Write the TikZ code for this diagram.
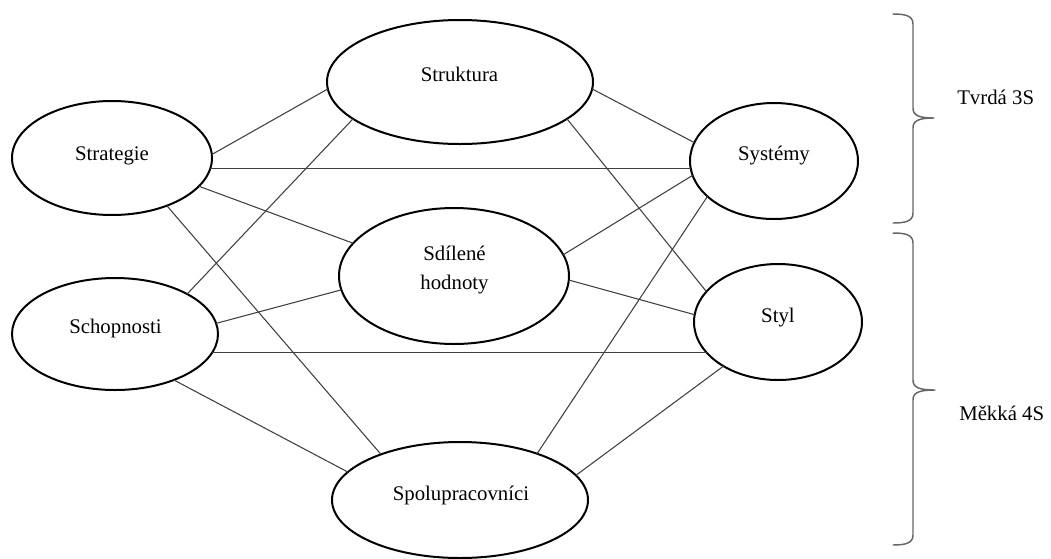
\documentclass[tikz,border=0pt]{standalone}
\usepackage{fontspec}
\setmainfont{Liberation Serif}
\usetikzlibrary{shapes.geometric}
\begin{document}
\begin{tikzpicture}[x=0.75pt,y=-0.75pt,
  oval/.style={ellipse,draw=black,line width=1.5pt,inner sep=0pt,outer sep=0pt},
  lbl/.style={anchor=base,inner sep=0pt,font=\fontsize{15.6pt}{19pt}\selectfont},
  side/.style={anchor=base west,inner sep=0pt,font=\fontsize{15.6pt}{19pt}\selectfont},
  link/.style={draw=black!75,line width=0.8pt},
  brace/.style={draw=black!60,line width=1.1pt,line cap=round,line join=round}]
\useasboundingbox (0,0) rectangle (1051,558);

% the seven elements
\node[oval,minimum width=150pt,minimum height=85.5pt] (strat) at (112,158) {};
\node[oval,minimum width=199.5pt,minimum height=93pt] (strukt) at (460,82) {};
\node[oval,minimum width=126pt,minimum height=87pt] (sys) at (774,161) {};
\node[oval,minimum width=172.5pt,minimum height=102pt] (sdil) at (454,276) {};
\node[oval,minimum width=154.5pt,minimum height=84pt] (schop) at (115,334) {};
\node[oval,minimum width=126pt,minimum height=87pt] (styl) at (778,322) {};
\node[oval,minimum width=192pt,minimum height=87pt] (spolu) at (460,500) {};

% element names
\node[lbl] (tstrat) at (112,160) {Strategie};
\node[lbl] (tstrukt) at (459.5,81) {Struktura};
\node[lbl] (tsys) at (774,160) {Systémy};
\node[lbl] (tsdil1) at (454.5,260) {Sdílené};
\node[lbl] (tsdil2) at (454.5,289) {hodnoty};
\node[lbl] (tschop) at (115.5,333) {Schopnosti};
\node[lbl] (tstyl) at (778,322) {Styl};
\node[lbl] (tspolu) at (461,500) {Spolupracovníci};

% links between the elements
\draw[link] (strat.2.8) -- (strukt.183.9);
\draw[link] (strat.-6.4) -- (strat.-6.4 -| sys.185.49);
\draw[link] (strat.-18.6) -- (sdil.162.1);
\draw[link] (strat.-41.7) -- (spolu.150.5);
\draw[link] (strukt.199.2) -- (schop.29.9);
\draw[link] (strukt.-3) -- (sys.167.5);
\draw[link] (strukt.-19.4) -- (styl.157.7);
\draw[link] (sdil.11.7) -- (sys.190.3);
\draw[link] (sdil.-2.5) -- (styl.175.2);
\draw[link] (sdil.187.6) -- (schop.6.1);
\draw[link] (schop.-11.74) -- (schop.-11.74 -| styl.204.55);
\draw[link] (schop.-38.2) -- (spolu.166.3);
\draw[link] (spolu.31.3) -- (sys.208.6);
\draw[link] (spolu.12.5) -- (styl.219.3);

% braces grouping hard and soft elements
\draw[brace] (893,14) .. controls (906,14) and (913,16) .. (913,24)
  -- (913,108) .. controls (913,115) and (918,118) .. (934,118)
  .. controls (918,118) and (913,121) .. (913,128)
  -- (913,213) .. controls (913,221) and (906,223) .. (893,223);
\draw[brace] (893,233) .. controls (906,233) and (913,235) .. (913,243)
  -- (913,380) .. controls (913,387) and (918,390) .. (935,390)
  .. controls (918,390) and (913,393) .. (913,400)
  -- (913,535) .. controls (913,543) and (906,545) .. (893,545);

\node[side] (hard) at (957,104) {Tvrdá 3S};
\node[side] (soft) at (959,420) {Měkká 4S};
\end{tikzpicture}
\end{document}
